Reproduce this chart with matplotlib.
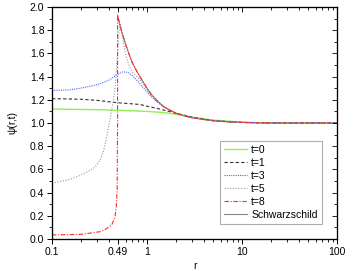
import numpy as np
import matplotlib
matplotlib.use('Agg')
import matplotlib.pyplot as plt
from matplotlib.ticker import FixedLocator, NullFormatter, LogLocator

plt.rcParams['font.family'] = ['Liberation Sans', 'DejaVu Sans']

# values
r_t0 = [0.1, 0.3, 0.49, 0.7, 1.0, 1.5, 2, 3, 5, 10, 20, 100]
psi_t0 = [1.12, 1.115, 1.11, 1.105, 1.10, 1.09, 1.075, 1.05, 1.025, 1.007, 1.0, 1.0]

r_t1 = [0.1, 0.2, 0.3, 0.49, 0.7, 0.84, 1.0, 1.37, 2, 3, 5, 10, 20, 100]
psi_t1 = [1.21, 1.205, 1.195, 1.175, 1.165, 1.16, 1.145, 1.12, 1.085, 1.05, 1.02, 1.005, 1.0, 1.0]

r_t3 = [0.1, 0.15, 0.2, 0.3, 0.4, 0.49, 0.55, 0.6, 0.65, 0.7, 0.8, 0.9, 1.0, 1.1, 1.25, 1.5, 2, 3, 5, 10, 20, 100]
psi_t3 = [1.28, 1.285, 1.30, 1.33, 1.37, 1.42, 1.44, 1.44, 1.43, 1.41, 1.36, 1.31, 1.27, 1.23, 1.19, 1.14, 1.085, 1.045, 1.02, 1.005, 1.0, 1.0]

r_t5 = [0.1, 0.155, 0.2, 0.25, 0.284, 0.32, 0.347, 0.376, 0.408, 0.443, 0.46, 0.48, 0.5, 0.52, 0.54,
        0.57, 0.6, 0.65, 0.7, 0.8, 0.9, 1.0, 1.2, 1.5, 2, 3, 5, 10, 20, 100]
psi_t5 = [0.48, 0.515, 0.55, 0.59, 0.62, 0.68, 0.75, 0.88, 1.03, 1.2, 1.3, 1.5, 1.72, 1.86, 1.79,
          1.67, 1.58, 1.49, 1.44, 1.39, 1.34, 1.29, 1.2, 1.14, 1.085, 1.045, 1.02, 1.005, 1.0, 1.0]

r_schw = [0.49, 0.52, 0.55, 0.6, 0.65, 0.7, 0.8, 0.9, 1.0, 1.1, 1.25, 1.5, 1.75, 2, 2.5, 3, 4, 5, 7, 10, 15, 20, 50, 100]
psi_schw = [1.93, 1.84, 1.77, 1.67, 1.59, 1.52, 1.43, 1.36, 1.30, 1.25, 1.20, 1.14, 1.11, 1.085, 1.06, 1.045,
            1.03, 1.02, 1.01, 1.005, 1.002, 1.0, 1.0, 1.0]

r_t8 = [0.1, 0.2, 0.25, 0.32, 0.37, 0.425, 0.46, 0.475, 0.485, 0.49, 0.49] + r_schw[1:]
psi_t8 = [0.035, 0.04, 0.05, 0.063, 0.086, 0.12, 0.19, 0.28, 0.42, 1.0, 1.93] + psi_schw[1:]

fig = plt.figure(figsize=(3.59, 2.71), dpi=100)
ax = fig.add_axes([52 / 359, 32 / 271, 285 / 359, 232 / 271])

ax.plot(r_schw, psi_schw, color='#888888', lw=0.8, label='Schwarzschild', zorder=2)
ax.plot(r_t0, psi_t0, color='#90f050', lw=1.0, label='t=0')
ax.plot(r_t1, psi_t1, color='#333333', lw=0.8, ls=(0, (3, 2)), label='t=1')
ax.plot(r_t3, psi_t3, color='#4a66ff', lw=0.8, ls=(0, (1, 1)), label='t=3')
ax.plot(r_t5, psi_t5, color='#999999', lw=0.8, ls=(0, (1, 1.5)), label='t=5')
ax.plot(r_t8, psi_t8, color='#ff2a2a', lw=0.8, ls=(0, (4, 1.5, 1, 1.5)), label='t=8')

ax.set_xscale('log')
ax.set_xlim(0.1, 100)
ax.set_ylim(0, 2.0)

xmaj = [0.1, 0.49, 1, 10, 100]
xlab = ['0.1', '0.49', '1', '10', '100']
ax.xaxis.set_major_locator(FixedLocator(xmaj))
ax.set_xticklabels(xlab)
ax.xaxis.set_minor_locator(LogLocator(base=10, subs=np.arange(2, 10)))
ax.xaxis.set_minor_formatter(NullFormatter())
ax.set_yticks(np.arange(0, 2.01, 0.2))
ax.set_yticklabels(['%.1f' % v for v in np.arange(0, 2.01, 0.2)])
ax.set_yticks(np.arange(0.1, 2.0, 0.2), minor=True)

ax.tick_params(which='major', direction='out', length=3.5, width=0.7, labelsize=7.5, pad=2)
ax.tick_params(which='minor', direction='out', length=2, width=0.6)

# mirrored ticks pointing inward on top and right
axt = ax.twiny()
axt.set_xscale('log')
axt.set_xlim(ax.get_xlim())
axt.xaxis.set_major_locator(FixedLocator(xmaj))
axt.xaxis.set_minor_locator(LogLocator(base=10, subs=np.arange(2, 10)))
axt.tick_params(which='both', direction='in', labeltop=False, width=0.6)
axt.tick_params(which='major', length=3.5)
axt.tick_params(which='minor', length=2)
axr = ax.twinx()
axr.set_ylim(ax.get_ylim())
axr.set_yticks(np.arange(0, 2.01, 0.2))
axr.set_yticks(np.arange(0.1, 2.0, 0.2), minor=True)
axr.tick_params(which='both', direction='in', labelright=False, width=0.6)
axr.tick_params(which='major', length=3.5)
axr.tick_params(which='minor', length=2)

for a in (ax, axt, axr):
    for s in a.spines.values():
        s.set_linewidth(0.8)

ax.set_xlabel('r', fontsize=7.5, labelpad=3)
ax.set_ylabel('ψ(r,t)', fontsize=7.5, labelpad=9)

handles, labels = ax.get_legend_handles_labels()
order = [1, 2, 3, 4, 5, 0]
leg = ax.legend([handles[i] for i in order], [labels[i] for i in order],
                loc='lower right', bbox_to_anchor=(327 / 359, 42 / 271),
                bbox_transform=fig.transFigure, fontsize=7.5, frameon=True,
                fancybox=False, edgecolor='#999999', handlelength=2.2,
                borderpad=0.4, labelspacing=0.28, handletextpad=0.4)
leg.get_frame().set_linewidth(0.8)

fig.savefig('out.png', dpi=100)
